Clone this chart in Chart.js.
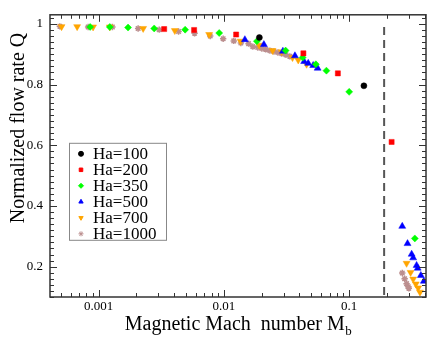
<!DOCTYPE html>
<html>
<head>
<meta charset="utf-8">
<script src="https://cdn.jsdelivr.net/npm/chart.js"></script>
<style>
    body { margin: 0; background: #fff; }
    canvas { display: block; }
</style>
</head>
<body>
<canvas id="flowChart" width="436" height="350"></canvas>
<script>
    // Values (x = Mb, y = Q)
    const ha100X = [0.0192, 0.131];
    const ha100Y = [0.955, 0.796];

    const ha200X = [0.00334, 0.00579, 0.01253, 0.0431, 0.0812, 0.218];
    const ha200Y = [0.983, 0.980, 0.965, 0.903, 0.837, 0.611];

    const ha350X = [0.000857, 0.00123, 0.00172, 0.00278, 0.00491, 0.00918, 0.01834, 0.0311, 0.0425, 0.0542, 0.0658, 0.100, 0.334];
    const ha350Y = [0.990, 0.990, 0.988, 0.985, 0.981, 0.970, 0.943, 0.912, 0.889, 0.867, 0.846, 0.776, 0.293];

    const ha500X = [0.01471, 0.02086, 0.02958, 0.0369, 0.0437, 0.0471, 0.0516, 0.0560, 0.265, 0.292, 0.315, 0.324, 0.345, 0.352, 0.373, 0.394];
    const ha500Y = [0.948, 0.932, 0.910, 0.895, 0.876, 0.870, 0.863, 0.854, 0.333, 0.276, 0.241, 0.229, 0.204, 0.195, 0.171, 0.152];

    const ha700X = [0.000507, 0.000675, 0.000905, 0.00123, 0.00227, 0.00406, 0.00763, 0.01359, 0.01913, 0.0245, 0.0289, 0.0353, 0.0392, 0.0457, 0.287, 0.309, 0.324, 0.340, 0.355, 0.367];
    const ha700Y = [0.991, 0.991, 0.990, 0.990, 0.985, 0.978, 0.965, 0.943, 0.930, 0.912, 0.908, 0.889, 0.881, 0.867, 0.211, 0.181, 0.159, 0.143, 0.130, 0.116];

    const ha1000X = [0.000491, 0.000826, 0.00129, 0.00207, 0.00305, 0.00435, 0.00584, 0.00778, 0.00987, 0.0120, 0.01367, 0.01574, 0.01703, 0.01867, 0.0201, 0.0216, 0.0233, 0.0251, 0.0270, 0.0290, 0.0313, 0.0336, 0.265, 0.277, 0.287, 0.296, 0.299];
    const ha1000Y = [0.992, 0.990, 0.990, 0.985, 0.981, 0.975, 0.969, 0.960, 0.951, 0.944, 0.937, 0.935, 0.925, 0.922, 0.919, 0.916, 0.912, 0.909, 0.906, 0.902, 0.898, 0.893, 0.179, 0.160, 0.144, 0.134, 0.129];

    // vertical dashed marker
    const cutoffX = [0.19, 0.19];
    const cutoffY = [0.99, 0.1];

    const seriesLabels = ['Ha=100', 'Ha=200', 'Ha=350', 'Ha=500', 'Ha=700', 'Ha=1000'];
    const seriesX = [ha100X, ha200X, ha350X, ha500X, ha700X, ha1000X];
    const seriesY = [ha100Y, ha200Y, ha350Y, ha500Y, ha700Y, ha1000Y];

    const xTickValues = [0.001, 0.01, 0.1];
    const yTickValues = [0.2, 0.4, 0.6, 0.8, 1];

    const FONT = '"Liberation Serif", "DejaVu Serif", serif';
    const AXIS_COLOR = '#333';

    const markers = [
        { color: '#000000', pointStyle: 'circle', radius: 3, rotation: 0 },
        { color: '#ff0000', pointStyle: 'rect', radius: 3.6, rotation: 0 },
        { color: '#00ff00', pointStyle: 'rectRot', radius: 3.5, rotation: 0 },
        { color: '#0000ff', pointStyle: 'triangle', radius: 4, rotation: 0 },
        { color: '#ffa500', pointStyle: 'triangle', radius: 4, rotation: 180 },
        { color: '#bc8f8f', pointStyle: 'star', radius: 3.2, rotation: 0 },
    ];

    function toPoints(xs, ys) {
        return xs.map((x, i) => ({ x: x, y: ys[i] }));
    }

    const datasets = seriesLabels.map((label, i) => ({
        label: label,
        data: toPoints(seriesX[i], seriesY[i]),
        pointStyle: markers[i].pointStyle,
        pointRadius: markers[i].radius,
        rotation: markers[i].rotation,
        backgroundColor: markers[i].color,
        borderColor: markers[i].color,
        borderWidth: markers[i].pointStyle === 'star' ? 1.5 : 0.5,
    }));

    datasets.push({
        label: 'cutoff',
        data: toPoints(cutoffX, cutoffY),
        showLine: true,
        pointRadius: 0,
        borderColor: '#555',
        borderWidth: 2,
        borderDash: [8, 5],
    });

    // box round the plot with inward ticks on all four sides
    const frameTicks = {
        id: 'frameTicks',
        afterDraw(chart) {
            const { ctx, chartArea: a, scales: { x, y } } = chart;
            ctx.save();
            ctx.strokeStyle = AXIS_COLOR;
            ctx.lineWidth = 1;
            ctx.beginPath();
            for (let e = -4; e <= 0; e++) {
                for (let m = 1; m <= 9; m++) {
                    const v = m * Math.pow(10, e);
                    if (v < x.min || v > x.max) continue;
                    const px = Math.round(x.getPixelForValue(v)) + 0.5;
                    const len = m === 1 ? 7 : 4;
                    ctx.moveTo(px, a.bottom); ctx.lineTo(px, a.bottom - len);
                    ctx.moveTo(px, a.top); ctx.lineTo(px, a.top + len);
                }
            }
            for (let k = 5; k <= 51; k++) {
                const v = k * 0.02;
                if (v < y.min || v > y.max) continue;
                const py = Math.round(y.getPixelForValue(v)) + 0.5;
                const len = k % 10 === 0 ? 7 : 4;
                ctx.moveTo(a.left, py); ctx.lineTo(a.left + len, py);
                ctx.moveTo(a.right, py); ctx.lineTo(a.right - len, py);
            }
            ctx.stroke();
            ctx.lineWidth = 1.5;
            ctx.strokeRect(a.left, a.top, a.right - a.left, a.bottom - a.top);
            ctx.restore();
        }
    };

    // axis titles, x one has a subscript
    const axisTitles = {
        id: 'axisTitles',
        afterDraw(chart) {
            const { ctx, chartArea: a } = chart;
            ctx.save();
            ctx.fillStyle = '#000';
            ctx.textBaseline = 'alphabetic';
            ctx.textAlign = 'left';
            const main = 'Magnetic Mach  number M';
            const sub = 'b';
            ctx.font = '20px ' + FONT;
            const wMain = ctx.measureText(main).width;
            ctx.font = '13px ' + FONT;
            const wSub = ctx.measureText(sub).width;
            const x0 = (a.left + a.right) / 2 - (wMain + wSub) / 2;
            ctx.font = '20px ' + FONT;
            ctx.fillText(main, x0, a.bottom + 33);
            ctx.font = '13px ' + FONT;
            ctx.fillText(sub, x0 + wMain + 0.5, a.bottom + 38);

            ctx.translate(24, 128);
            ctx.rotate(-Math.PI / 2);
            ctx.textAlign = 'center';
            ctx.font = '20px ' + FONT;
            ctx.fillText('Normalized flow rate Q', 0, 0);
            ctx.restore();
        }
    };

    // boxed legend inside the plot
    const legendBox = {
        id: 'legendBox',
        afterDraw(chart) {
            const { ctx, chartArea: a } = chart;
            const left = a.left + 19, top = a.top + 128;
            const w = 97, h = 97;
            ctx.save();
            ctx.fillStyle = '#fff';
            ctx.fillRect(left, top, w, h);
            ctx.strokeStyle = '#888';
            ctx.lineWidth = 1;
            ctx.strokeRect(left + 0.5, top + 0.5, w, h);
            ctx.font = '17px ' + FONT;
            ctx.textBaseline = 'middle';
            ctx.textAlign = 'left';
            seriesLabels.forEach((label, i) => {
                const cy = top + 11 + i * 16;
                const mk = markers[i];
                ctx.fillStyle = mk.color;
                ctx.strokeStyle = mk.color;
                Chart.helpers.drawPoint(ctx, {
                    pointStyle: mk.pointStyle,
                    radius: 2.5,
                    rotation: mk.rotation,
                    borderWidth: mk.pointStyle === 'star' ? 1.2 : 0.5,
                }, left + 12, cy);
                ctx.fillStyle = '#000';
                ctx.fillText(label, left + 24, cy + 1);
            });
            ctx.restore();
        }
    };

    new Chart(document.getElementById('flowChart'), {
        type: 'scatter',
        data: { datasets: datasets },
        options: {
            responsive: false,
            animation: false,
            layout: { padding: { top: 11, right: 10, left: 0, bottom: 0 } },
            plugins: {
                legend: { display: false },
                tooltip: { enabled: false },
            },
            scales: {
                x: {
                    type: 'logarithmic',
                    min: 0.00041,
                    max: 0.41,
                    afterBuildTicks: (s) => { s.ticks = xTickValues.map(v => ({ value: v })); },
                    afterFit: (s) => { s.height = 53; },
                    grid: { display: false, drawTicks: false },
                    border: { display: false },
                    ticks: {
                        autoSkip: false,
                        maxRotation: 0,
                        padding: 2,
                        color: '#000',
                        font: { family: FONT, size: 13 },
                        callback: (v) => String(v),
                    },
                },
                y: {
                    min: 0.1,
                    max: 1.03,
                    afterBuildTicks: (s) => { s.ticks = yTickValues.map(v => ({ value: v })); },
                    afterFit: (s) => { s.width = 50; },
                    grid: { display: false, drawTicks: false },
                    border: { display: false },
                    ticks: {
                        padding: 7,
                        color: '#000',
                        font: { family: FONT, size: 13 },
                        callback: (v) => v === 1 ? '1' : v.toFixed(1),
                    },
                },
            },
        },
        plugins: [frameTicks, axisTitles, legendBox],
    });
</script>
</body>
</html>
